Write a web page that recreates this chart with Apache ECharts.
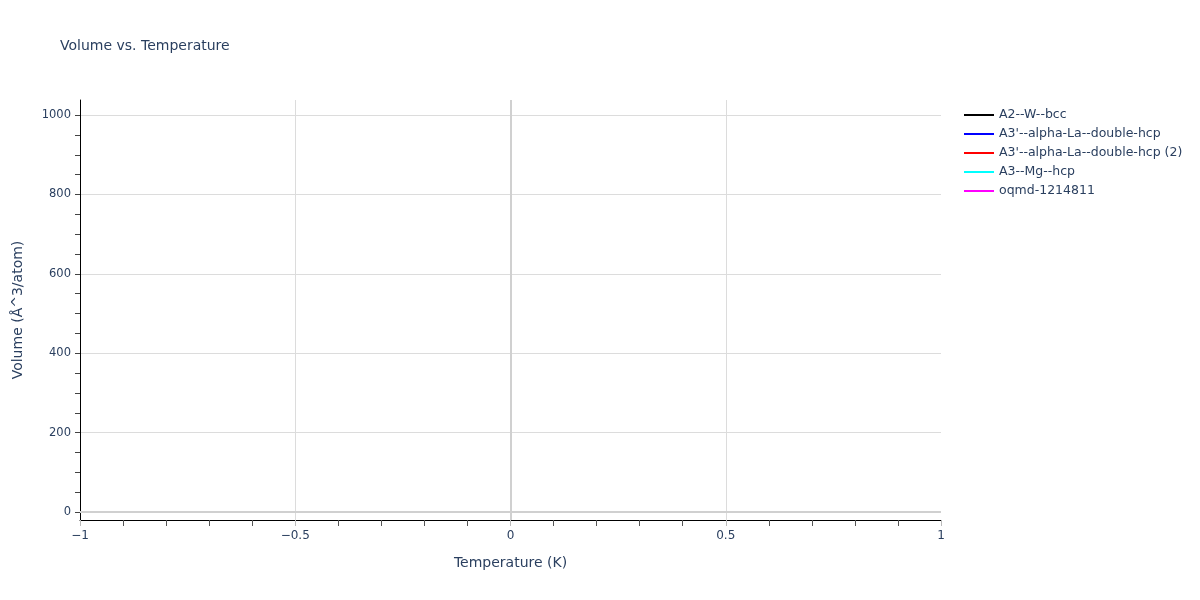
<!DOCTYPE html>
<html>
<head>
<meta charset="utf-8">
<script src="https://cdn.jsdelivr.net/npm/echarts@6/dist/echarts.min.js"></script>
<style>html,body{margin:0;padding:0;background:#fff}#c{width:1200px;height:600px}</style>
</head>
<body>
<div id="c"></div>
<script>
// Data (no visible data points in the reference chart)
const seriesNames = ["A2--W--bcc", "A3'--alpha-La--double-hcp", "A3'--alpha-La--double-hcp (2)", "A3--Mg--hcp", "oqmd-1214811"];
const seriesColors = ["#000000", "#0000ff", "#ff0000", "#00ffff", "#ff00ff"];
const temperatureW = [];
const volumeW = [];
const temperatureLa = [];
const volumeLa = [];
const temperatureLa2 = [];
const volumeLa2 = [];
const temperatureMg = [];
const volumeMg = [];
const temperatureOqmd = [];
const volumeOqmd = [];
const yTickLabels = [0, 200, 400, 600, 800, 1000];
const yMinorTicks = [0, 50, 100, 150, 200, 250, 300, 350, 400, 450, 500, 550, 600, 650, 700, 750, 800, 850, 900, 950, 1000];

const seriesData = [
  [temperatureW, volumeW],
  [temperatureLa, volumeLa],
  [temperatureLa2, volumeLa2],
  [temperatureMg, volumeMg],
  [temperatureOqmd, volumeOqmd]
];

const txt = '#2a3f5f';
const font = '"DejaVu Sans", Verdana, sans-serif';

const series = seriesNames.map((n, i) => ({
  name: n,
  type: 'line',
  xAxisIndex: 0,
  yAxisIndex: 0,
  symbol: 'none',
  showSymbol: false,
  color: seriesColors[i],
  itemStyle: { color: seriesColors[i] },
  lineStyle: { width: 2, color: seriesColors[i] },
  data: seriesData[i][0].map((t, k) => [t, seriesData[i][1][k]])
}));
series.push({
  name: 'zero',
  type: 'line',
  xAxisIndex: 0,
  yAxisIndex: 0,
  data: [],
  symbol: 'none',
  silent: true,
  markLine: {
    silent: true,
    symbol: 'none',
    label: { show: false },
    lineStyle: { color: '#d0d0d0', width: 2, type: 'solid' },
    data: [{ xAxis: 0 }, { yAxis: 0 }]
  }
});

const chart = echarts.init(document.getElementById('c'), null, { renderer: 'canvas' });
chart.setOption({
  animation: false,
  backgroundColor: '#fff',
  textStyle: { fontFamily: font },
  title: {
    text: 'Volume vs. Temperature',
    left: 60, top: 39, padding: 0,
    textStyle: { color: txt, fontSize: 14, fontWeight: 'normal', fontFamily: font }
  },
  legend: {
    orient: 'vertical',
    left: 964, top: 108, padding: 0,
    icon: 'rect',
    itemWidth: 30, itemHeight: 2, itemGap: 5,
    data: seriesNames,
    textStyle: { color: txt, fontSize: 12.5, lineHeight: 14, fontFamily: font }
  },
  grid: { left: 80, right: 259, top: 100, bottom: 80 },
  xAxis: [{
    type: 'value',
    min: -1, max: 1, interval: 0.5,
    name: 'Temperature (K)',
    nameLocation: 'middle', nameGap: 36,
    nameTextStyle: { color: txt, fontSize: 14, fontFamily: font },
    axisLine: { show: true, onZero: false, lineStyle: { color: '#000', width: 1 } },
    axisTick: { show: true, length: 6, lineStyle: { color: '#bbb' } },
    minorTick: { show: true, splitNumber: 5, length: 6, lineStyle: { color: '#555' } },
    axisLabel: { color: txt, fontSize: 12, margin: 10, fontFamily: font,
      formatter: v => (v < 0 ? '\u2212' + Math.abs(v) : String(v)) },
    splitLine: { show: true, showMinLine: false, showMaxLine: false, lineStyle: { color: '#dcdcdc', width: 1 } }
  }],
  yAxis: [{
    type: 'value',
    min: -20, max: 1038,
    position: 'left',
    name: 'Volume (Å^3/atom)',
    nameLocation: 'middle', nameGap: 55, nameRotate: 90,
    nameTextStyle: { color: txt, fontSize: 14, fontFamily: font },
    axisLine: { show: true, onZero: false, lineStyle: { color: '#000', width: 1 } },
    axisTick: { show: true, length: 5, customValues: yTickLabels, lineStyle: { color: '#444' } },
    axisLabel: { color: txt, fontSize: 11.5, margin: 9, fontFamily: font, customValues: yTickLabels,
      formatter: v => String(v) },
    splitLine: { show: true, lineStyle: { color: '#dcdcdc', width: 1 } }
  }, {
    type: 'value',
    min: -20, max: 1038,
    position: 'left', offset: 0,
    axisLine: { show: false, onZero: false },
    axisTick: { show: true, length: 5, customValues: yMinorTicks, lineStyle: { color: '#444' } },
    axisLabel: { show: false },
    splitLine: { show: false }
  }],
  series: series
});
</script>
</body>
</html>
